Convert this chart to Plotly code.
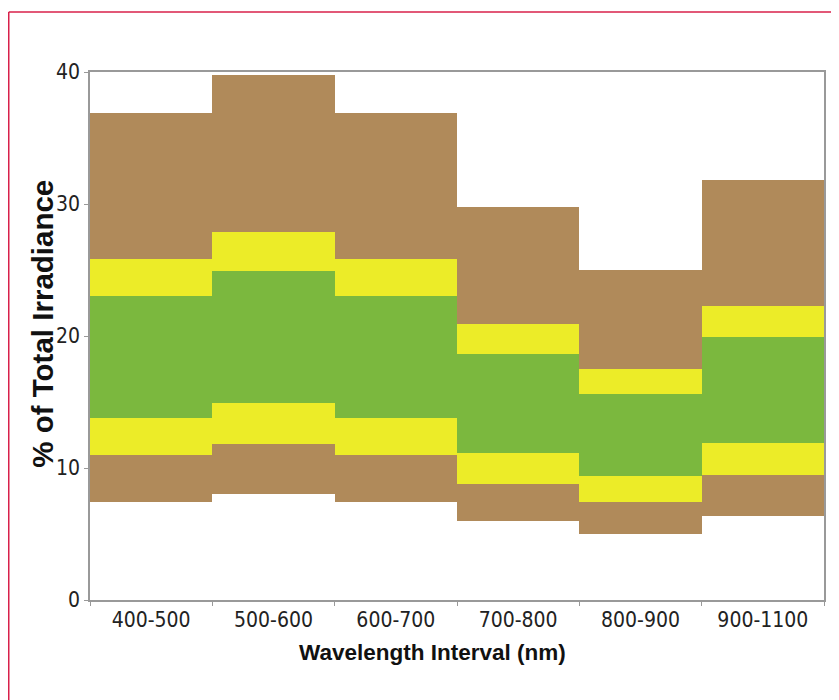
import plotly.graph_objects as go

categories = ["400-500", "500-600", "600-700", "700-800", "800-900", "900-1100"]
# band boundaries (% of total irradiance), bottom to top
bound0 = [7.4, 8.0, 7.4, 6.0, 5.0, 6.4]
bound1 = [11.0, 11.8, 11.0, 8.8, 7.4, 9.5]
bound2 = [13.8, 14.9, 13.8, 11.1, 9.4, 11.9]
bound3 = [23.0, 24.9, 23.0, 18.6, 15.6, 19.9]
bound4 = [25.8, 27.9, 25.8, 20.9, 17.5, 22.3]
bound5 = [36.9, 39.8, 36.9, 29.8, 25.0, 31.8]
y_ticks = [0, 10, 20, 30, 40]

BROWN = "#B08A5A"
YELLOW = "#ECEC28"
GREEN = "#7BB83E"

bands = [
    (bound0, bound1, BROWN),
    (bound1, bound2, YELLOW),
    (bound2, bound3, GREEN),
    (bound3, bound4, YELLOW),
    (bound4, bound5, BROWN),
]

fig = go.Figure()
for lo, hi, col in bands:
    fig.add_trace(go.Bar(
        x=categories,
        y=[h - l for l, h in zip(lo, hi)],
        base=lo,
        marker=dict(color=col, line=dict(width=0)),
        showlegend=False,
        hoverinfo="skip",
    ))

FONT = "DejaVu Sans Condensed, Liberation Sans, Arial, sans-serif"
TFONT = "Liberation Sans, Arial, sans-serif"

W, H = 831, 692
L, R, T, B = 82, 15, 64, 100
pw, ph = W - L - R, H - T - B
fx = lambda px: (px - L) / pw
fy = lambda py: 1 + (T - py) / ph

fig.update_layout(
    width=W, height=H,
    margin=dict(l=L, r=R, t=T, b=B),
    paper_bgcolor="white", plot_bgcolor="white",
    barmode="overlay", bargap=0,
    font=dict(family=FONT, color="#222222", size=21),
    xaxis=dict(
        type="category", tickson="boundaries",
        ticks="outside", ticklen=4, tickcolor="#999999",
        showline=True, linecolor="#999999", linewidth=1.5, mirror=True,
        showgrid=False,
        tickfont=dict(size=21, family=FONT, color="#222222"),
    ),
    yaxis=dict(
        range=[0, 40], tickvals=y_ticks,
        ticks="outside", ticklen=4, tickcolor="#999999",
        showline=True, linecolor="#999999", linewidth=1.5, mirror=True,
        showgrid=False, zeroline=False,
        tickfont=dict(size=21, family=FONT, color="#222222"),
    ),
)

# axis titles
fig.add_annotation(text="<b>Wavelength Interval (nm)</b>", xref="paper", yref="paper",
                   x=fx(424.5), y=fy(644.7), xanchor="center", yanchor="middle",
                   showarrow=False, font=dict(size=22.5, family=TFONT, color="#111111"))
fig.add_annotation(text="<b>% of Total Irradiance</b>", xref="paper", yref="paper",
                   x=fx(33.7), y=fy(316), xanchor="center", yanchor="middle",
                   textangle=-90, showarrow=False,
                   font=dict(size=29.5, family=TFONT, color="#111111"))

# decorative red frame of the figure
fig.add_shape(type="line", xref="paper", yref="paper",
              x0=fx(0.75), x1=fx(W + 5), y0=fy(4), y1=fy(4),
              line=dict(color="#D8204A", width=1.5))
fig.add_shape(type="line", xref="paper", yref="paper",
              x0=fx(0.75), x1=fx(0.75), y0=fy(4), y1=fy(H + 5),
              line=dict(color="#D8204A", width=1.5))

fig.write_html("out.html")
